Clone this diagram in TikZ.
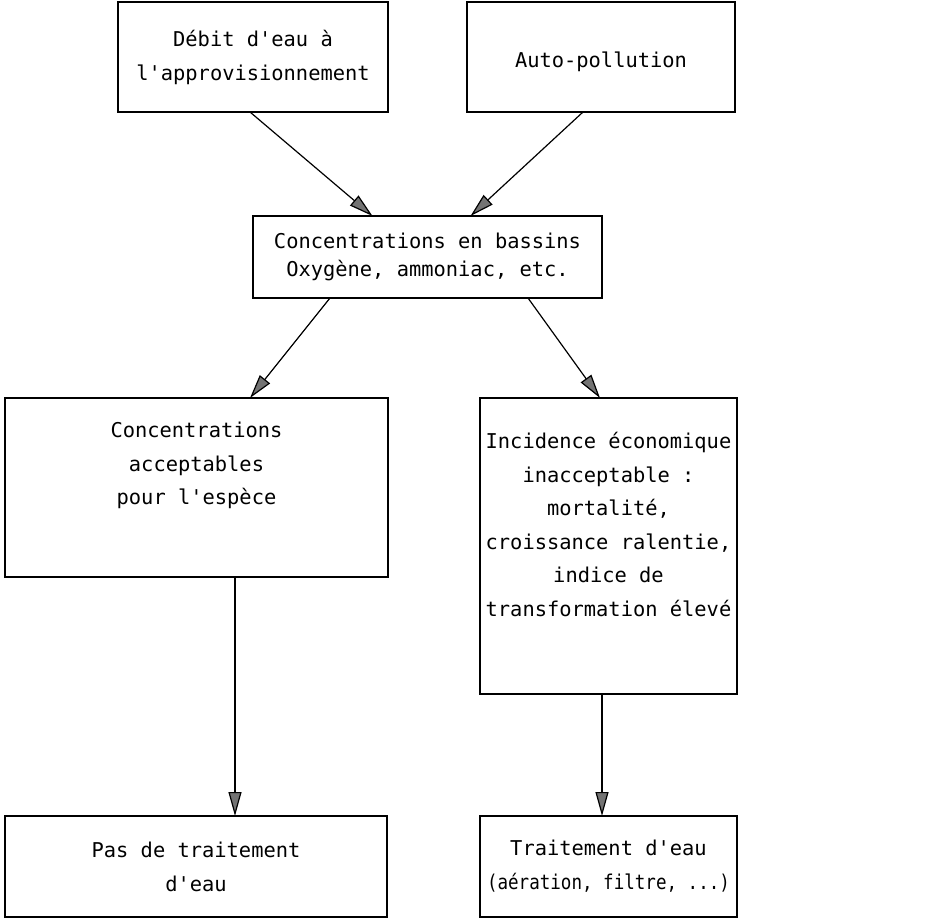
\documentclass[tikz,border=0pt]{standalone}
\usepackage{fontspec}
\usepackage{graphicx}
\setmonofont{DejaVu Sans Mono}
\usetikzlibrary{arrows.meta,positioning}
\begin{document}
\begin{tikzpicture}[x=1pt,y=-1pt,
    box/.style={draw,line width=1.5pt,rectangle,inner sep=0pt,outer sep=0pt,align=center,
        font=\ttfamily\fontsize{20.4}{34}\selectfont},
    lbl/.style={inner sep=0pt,align=center,font=\ttfamily\fontsize{20.4}{33.5}\selectfont},
    flow/.style={line width=1.2pt,-{Triangle[length=24pt,width=13pt,fill=black!55]}}]
    \useasboundingbox (0,0) rectangle (946,919);
    \node[box,minimum width=270pt,minimum height=110pt] (debit) at (253,57) {Débit d'eau à\\l'approvisionnement};
    \node[box,minimum width=268pt,minimum height=110pt] (auto) at (601,57) {};
    \node[lbl] (autoTxt) at (601,62) {Auto-pollution};
    \node[box,minimum width=349pt,minimum height=82pt] (conc) at (427.5,257) {Concentrations en bassins\\[-6pt]Oxygène, ammoniac, etc.};
    \node[box,minimum width=383pt,minimum height=179pt] (accept) at (196.5,487.5) {};
    \node[lbl,below=24pt of accept.north] (acceptTxt) {Concentrations\\acceptables\\pour l'espèce};
    \node[box,minimum width=257pt,minimum height=296pt] (incid) at (608.5,546) {};
    \node[lbl,below=34pt of incid.north] (incidTxt) {Incidence économique\\inacceptable :\\mortalité,\\croissance ralentie,\\indice de\\transformation élevé};
    \node[box,minimum width=382pt,minimum height=101pt] (pas) at (196,866.5) {Pas de traitement\\d'eau};
    \node[box,minimum width=257pt,minimum height=101pt] (trait) at (608.5,866.5) {Traitement d'eau\\\scalebox{0.86}[1]{(aération, filtre, ...)}};
    % arrows
    \draw[flow] ([xshift=-3pt]debit.south) -- ([xshift=-55pt]conc.north);
    \draw[flow] ([xshift=-18pt]auto.south) -- ([xshift=43pt]conc.north);
    \draw[flow] ([xshift=-97.5pt]conc.south) -- ([xshift=53.5pt]accept.north);
    \draw[flow] ([xshift=100.5pt]conc.south) -- ([xshift=-8.5pt]incid.north);
    \draw[flow] ([xshift=38.5pt]accept.south) -- ([xshift=39pt]pas.north);
    \draw[flow] ([xshift=-6.5pt]incid.south) -- ([xshift=-6.5pt]trait.north);
\end{tikzpicture}
\end{document}
